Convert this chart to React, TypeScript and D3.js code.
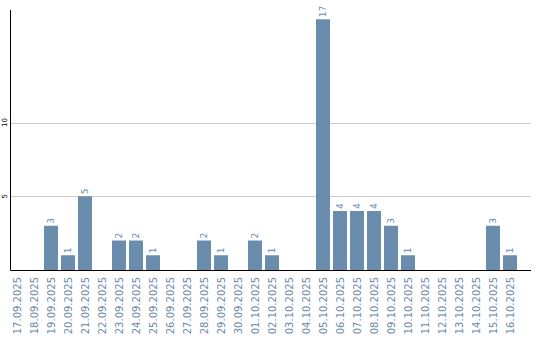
import React from "react";
import * as d3 from "d3";

const dates = [
  "17.09.2025","18.09.2025","19.09.2025","20.09.2025","21.09.2025","22.09.2025",
  "23.09.2025","24.09.2025","25.09.2025","26.09.2025","27.09.2025","28.09.2025",
  "29.09.2025","30.09.2025","01.10.2025","02.10.2025","03.10.2025","04.10.2025",
  "05.10.2025","06.10.2025","07.10.2025","08.10.2025","09.10.2025","10.10.2025",
  "11.10.2025","12.10.2025","13.10.2025","14.10.2025","15.10.2025","16.10.2025",
];
const counts = [0,0,3,1,5,0,2,2,1,0,0,2,1,0,2,1,0,0,17,4,4,4,3,1,0,0,0,0,3,1];
const yTicks = [5, 10];

const W = 540, H = 340;
const BAR = "#6a8cad";
const TXT = "#6a8aab";
const FONT = "'DejaVu Sans', Verdana, sans-serif";

export default function App() {
  const x = d3.scaleBand<string>().domain(dates).range([8.5, 518.5]).paddingInner(0.176).paddingOuter(0.088);
  const y = d3.scaleLinear().domain([0, 17.63]).range([270, 10]);
  const axisX = 10.5;
  const axisRight = 531;
  return (
    <svg width={W} height={H} style={{ position: "absolute", left: 0, top: 0 }}>
      <rect width={W} height={H} fill="#fff" />
      {yTicks.map((t) => (
        <g key={t}>
          <line x1={axisX} x2={axisRight} y1={Math.round(y(t)) + 0.5} y2={Math.round(y(t)) + 0.5} stroke="#cccccc" strokeWidth={1} />
          <text
            transform={`translate(5,${y(t)}) rotate(-90)`}
            textAnchor="middle"
            dy="0.35em"
            fontSize={7}
            fontFamily={FONT}
            fill="#000"
          >
            {t}
          </text>
        </g>
      ))}
      {dates.map((d, i) => {
        const v = counts[i];
        const bx = x(d)!;
        const cx = bx + x.bandwidth() / 2;
        return (
          <g key={d}>
            {v > 0 && (
              <>
                <rect x={bx} y={y(v)} width={x.bandwidth()} height={y(0) - y(v)} fill={BAR} />
                <text
                  transform={`translate(${cx},${y(v) - 2}) rotate(-90)`}
                  textAnchor="start"
                  dy="0.35em"
                  fontSize={9}
                  fontFamily={FONT}
                  fill={TXT}
                >
                  {v}
                </text>
              </>
            )}
            <text
              transform={`translate(${cx},277) rotate(-90)`}
              textAnchor="end"
              dy="0.35em"
              fontSize={10}
              fontFamily={FONT}
              fill={TXT}
            >
              {d}
            </text>
          </g>
        );
      })}
      <line x1={axisX} x2={axisX} y1={10} y2={270.5} stroke="#000" strokeWidth={1} />
      <line x1={axisX} x2={axisRight} y1={270.5} y2={270.5} stroke="#000" strokeWidth={1} />
    </svg>
  );
}
